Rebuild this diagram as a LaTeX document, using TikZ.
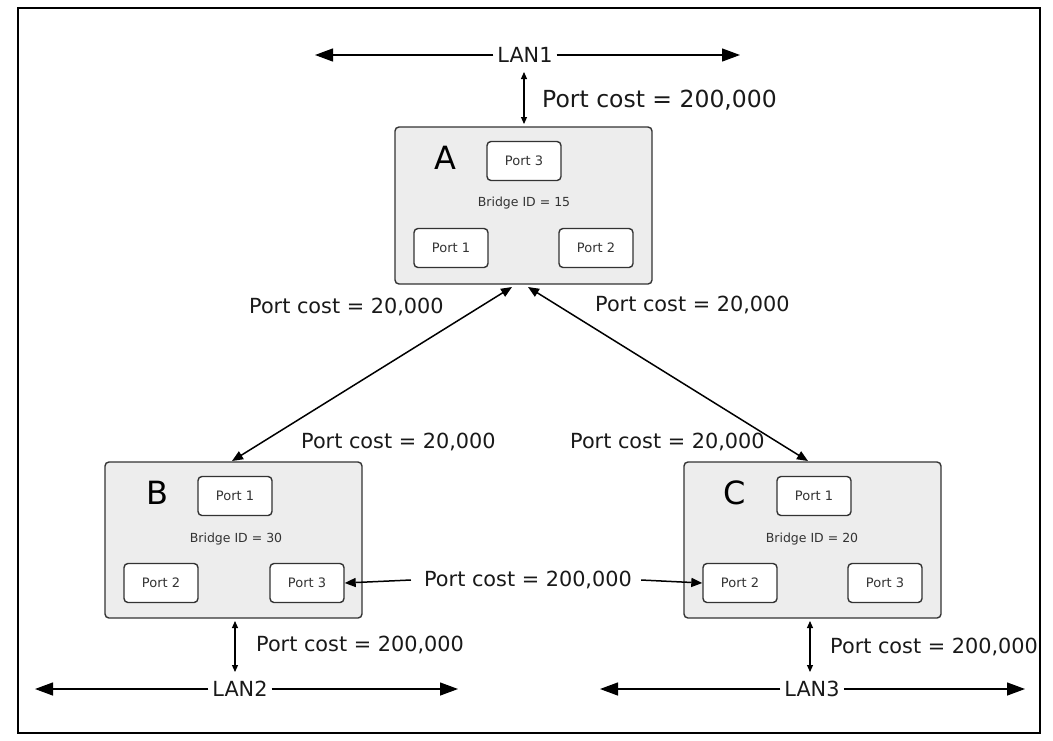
\documentclass[tikz,border=0pt]{standalone}
\usepackage{fontspec}
\setmainfont{DejaVu Sans}
\usetikzlibrary{arrows.meta}
\begin{document}
\begin{tikzpicture}[x=1pt,y=-1pt,
  bridge/.style={draw=black!80,line width=1.4pt,fill=black!7,rounded corners=4pt},
  port/.style={draw=black!80,line width=1.4pt,fill=white,rounded corners=4pt,minimum width=74pt,minimum height=39pt,inner sep=0pt,font=\fontsize{13}{15}\selectfont,text=black!80},
  cost/.style={font=\fontsize{20.8}{25}\selectfont,text=black!90,inner sep=1pt},
  bid/.style={font=\fontsize{12.5}{15}\selectfont,text=black!80},
  letter/.style={font=\fontsize{32}{36}\selectfont},
  lan/.style={line width=1.3pt,-{Triangle[length=18pt,width=13pt]}},
  link/.style={line width=1.5pt,{Triangle[length=11pt,width=9pt]}-{Triangle[length=11pt,width=9pt]}},
  olink/.style={line width=1.5pt,-{Triangle[length=11pt,width=9pt]}},
  vlink/.style={line width=1.1pt,{Triangle[length=7pt,width=6pt]}-{Triangle[length=7pt,width=6pt]}}]
\useasboundingbox (0,0) rectangle (1053,740);
\draw[line width=1.3pt] (18,8) rectangle (1040,733);
% bridges
\draw[bridge] (395,127) rectangle (652,284);
\draw[bridge] (105,462) rectangle (362,618);
\draw[bridge] (684,462) rectangle (941,618);
\coordinate (Atop) at (524,124); \coordinate (Abot) at (520,287);
\coordinate (Btop) at (232,461); \coordinate (Ctop) at (808,461);
\coordinate (Bbot) at (235,621); \coordinate (Cbot) at (810,621);
\node[letter] (la) at (445,158) {A};
\node[port] (a3) at (524,161) {Port 3};
\node[bid] (ida) at (524,203) {Bridge ID = 15};
\node[port] (a1) at (451,248) {Port 1};
\node[port] (a2) at (596,248) {Port 2};
\node[letter] (lb) at (157,493) {B};
\node[port] (b1) at (235,496) {Port 1};
\node[bid] (idb) at (236,539) {Bridge ID = 30};
\node[port] (b2) at (161,583) {Port 2};
\node[port] (b3) at (307,583) {Port 3};
\node[letter] (lc) at (735,493) {C};
\node[port] (c1) at (814,496) {Port 1};
\node[bid] (idc) at (812,539) {Bridge ID = 20};
\node[port] (c2) at (740,583) {Port 2};
\node[port] (c3) at (885,583) {Port 3};
% LAN1
\node[cost,inner xsep=4pt] (lan1) at (525,55) {LAN1};
\coordinate (l1a) at (315,55); \coordinate (l1b) at (740,55);
\draw[lan] (lan1.west) -- (l1a);
\draw[lan] (lan1.east) -- (l1b);
\coordinate (v1) at (524,72);
\draw[vlink] (v1) -- (Atop);
\node[cost,anchor=west,font=\fontsize{23.5}{27}\selectfont] (ca) at (541,100) {Port cost = 200,000};
% LAN2
\node[cost,inner xsep=4pt] (lan2) at (240,689) {LAN2};
\coordinate (l2a) at (35,689); \coordinate (l2b) at (458,689);
\draw[lan] (lan2.west) -- (l2a);
\draw[lan] (lan2.east) -- (l2b);
\coordinate (v2) at (235,672);
\draw[vlink] (v2) -- (Bbot);
\node[cost,anchor=west] (cb) at (255,645) {Port cost = 200,000};
% LAN3
\node[cost,inner xsep=4pt] (lan3) at (812,689) {LAN3};
\coordinate (l3a) at (600,689); \coordinate (l3b) at (1025,689);
\draw[lan] (lan3.west) -- (l3a);
\draw[lan] (lan3.east) -- (l3b);
\coordinate (v3) at (810,672);
\draw[vlink] (v3) -- (Cbot);
\node[cost,anchor=west] (cc) at (829,647) {Port cost = 200,000};
% diagonals
\coordinate (Aleft) at (512,287); \coordinate (Aright) at (528,287);
\draw[link] (Aleft) -- (Btop);
\draw[link] (Aright) -- (Ctop);
\node[cost,anchor=west] (d1) at (248,307) {Port cost = 20,000};
\node[cost,anchor=west] (d2) at (300,442) {Port cost = 20,000};
\node[cost,anchor=west] (d3) at (594,305) {Port cost = 20,000};
\node[cost,anchor=west] (d4) at (569,442) {Port cost = 20,000};
% B-C
\node[cost] (bc) at (528,580) {Port cost = 200,000};
\draw[olink] ([xshift=-12pt]bc.west) -- (b3.east);
\draw[olink] ([xshift=8pt]bc.east) -- (c2.west);
\end{tikzpicture}
\end{document}
